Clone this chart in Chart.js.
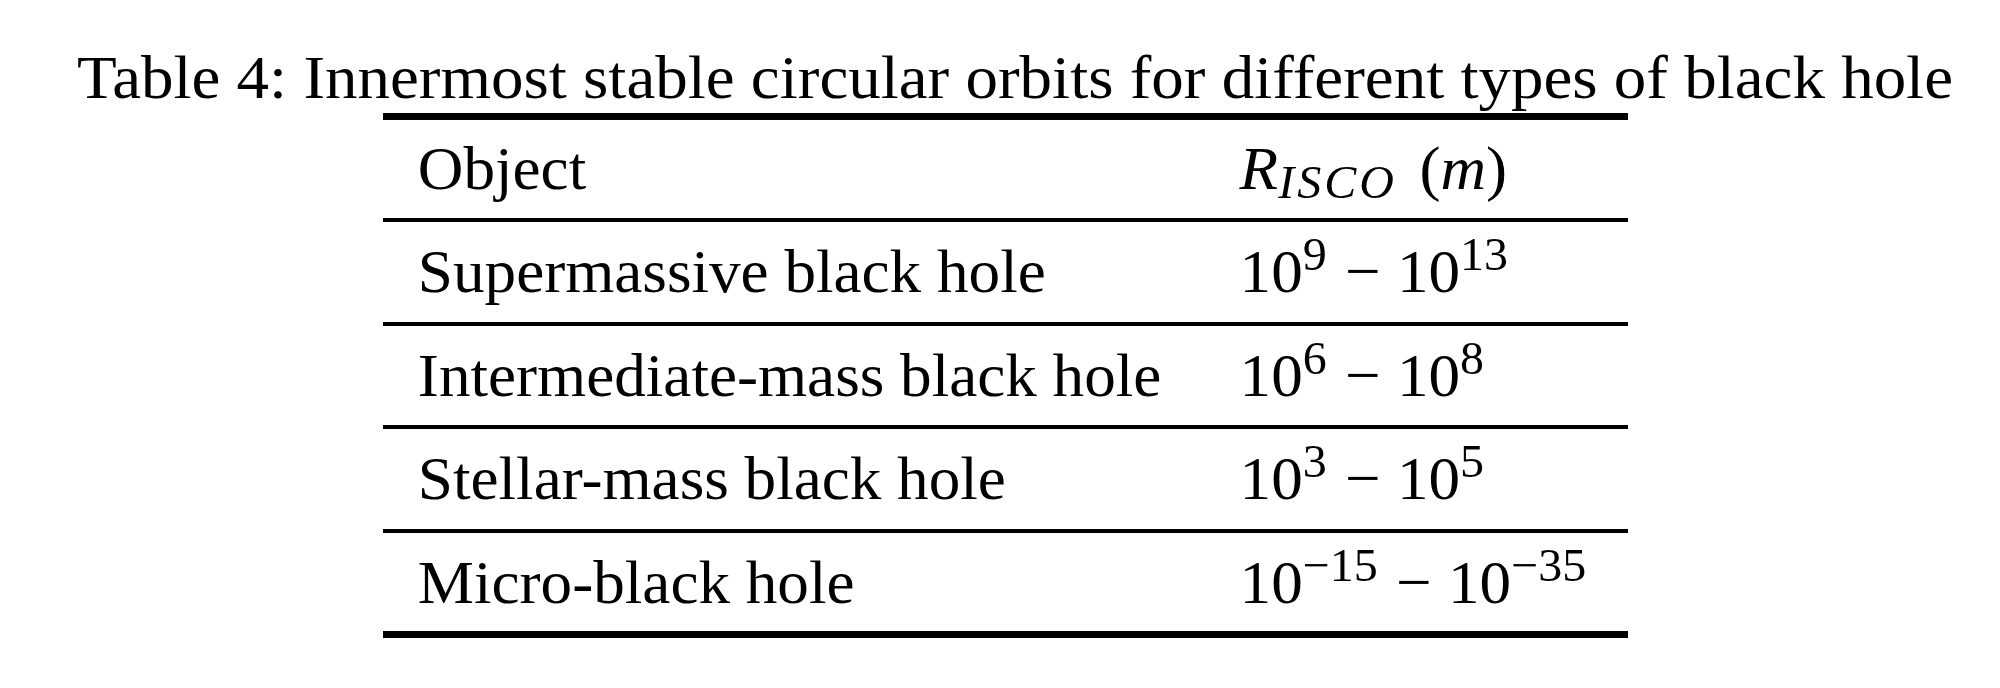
<!DOCTYPE html>
<html>
<head>
<meta charset="utf-8">
<script src="https://cdn.jsdelivr.net/npm/chart.js@4.4.0/dist/chart.umd.min.js"></script>
<style>
  html, body { margin: 0; padding: 0; background: #fff; }
  #wrap { width: 2000px; height: 688px; }
</style>
</head>
<body>
<div id="wrap"><canvas id="table-chart" width="2000" height="688"></canvas></div>
<script>
const caption = 'Table 4: Innermost stable circular orbits for different types of black hole';
const headerObject = 'Object';
const headerSymbol = 'R';
const headerSub = 'ISCO';
const headerUnit = 'm';
const objects = ['Supermassive black hole', 'Intermediate-mass black hole', 'Stellar-mass black hole', 'Micro-black hole'];
const lowExp = [9, 6, 3, -15];
const highExp = [13, 8, 5, -35];

// layout
const colPos = [0.028, 0.688];
const FONT = '"Liberation Serif", "Times New Roman", serif';
const SIZE = 62;
const CAP = SIZE * 0.662;
let stretch = 1;

const expText = (n) => (n < 0 ? '\u2212' + Math.abs(n) : String(n));

function rangeParts(lo, hi) {
  return [
    { t: '10' }, { t: expText(lo), sup: true },
    { t: '\u2212', pad: 18 },
    { t: '10', pad: 16 }, { t: expText(hi), sup: true }
  ];
}

const cells = [
  { x: colPos[0], y: 0.5, parts: [{ t: headerObject }] },
  { x: colPos[1], y: 0.5, parts: [
    { t: headerSymbol, it: true }, { t: headerSub, it: true, sub: true, sp: 3 },
    { t: '(', pad: 22 }, { t: headerUnit, it: true }, { t: ')' }
  ] }
];
objects.forEach((name, i) => {
  cells.push({ x: colPos[0], y: i + 1.5, parts: [{ t: name }] });
  cells.push({ x: colPos[1], y: i + 1.5, parts: rangeParts(lowExp[i], highExp[i]) });
});

function fontStr(size, italic) {
  return (italic ? 'italic ' : '') + size + 'px ' + FONT;
}

function drawRich(ctx, x, y, parts, sx) {
  ctx.save();
  ctx.translate(x, y);
  ctx.scale(sx, 1);
  let cx = 0;
  parts.forEach(p => {
    let size = SIZE, dy = 0;
    if (p.sup) { size = SIZE * 0.76; dy = -22; }
    if (p.sub) { size = SIZE * 0.76; dy = 9; }
    cx += p.pad || 0;
    ctx.font = fontStr(size, p.it);
    if (p.sp) {
      // spread subscript letters a little, like TeX math italic
      for (const ch of p.t) {
        ctx.fillText(ch, cx, dy);
        cx += ctx.measureText(ch).width + p.sp;
      }
    } else {
      ctx.fillText(p.t, cx, dy);
      cx += ctx.measureText(p.t).width;
    }
  });
  ctx.restore();
}

const cellText = {
  id: 'cellText',
  afterDatasetsDraw(chart) {
    const ctx = chart.ctx;
    ctx.save();
    ctx.fillStyle = '#000';
    ctx.textBaseline = 'alphabetic';
    ctx.textAlign = 'left';
    ctx.font = fontStr(SIZE, false);
    stretch = 1876 / ctx.measureText(caption).width;
    drawRich(ctx, 77, 98, [{ t: caption }], stretch);
    const ds = chart.data.datasets[0];
    chart.getDatasetMeta(0).data.forEach((pt, i) => {
      drawRich(ctx, pt.x, pt.y + CAP / 2, ds.data[i].parts, stretch * 0.972);
    });
    ctx.restore();
  }
};

new Chart(document.getElementById('table-chart'), {
  type: 'scatter',
  data: {
    datasets: [{ data: cells, pointRadius: 0, pointHoverRadius: 0 }]
  },
  options: {
    responsive: false,
    animation: false,
    devicePixelRatio: 1,
    events: [],
    layout: { padding: { left: 383, right: 372, top: 116.5, bottom: 54 } },
    plugins: {
      legend: { display: false },
      tooltip: { enabled: false },
      title: { display: false }
    },
    scales: {
      x: { type: 'linear', min: 0, max: 1, display: false },
      y: {
        type: 'linear', min: 0, max: 5, reverse: true,
        afterFit: (s) => { s.width = 0; },
        ticks: { display: false, stepSize: 1 },
        border: { display: false },
        grid: {
          color: '#000',
          drawTicks: false,
          lineWidth: (c) => (c.tick.value === 0 || c.tick.value === 5) ? 7 : 4
        }
      }
    }
  },
  plugins: [cellText]
});
</script>
</body>
</html>
